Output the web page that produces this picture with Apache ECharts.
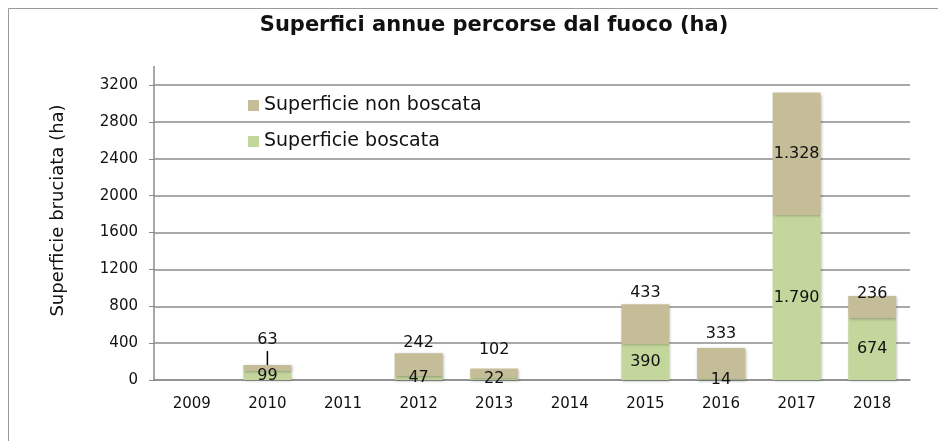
<!DOCTYPE html>
<html lang="it">
<head>
    <meta charset="UTF-8">
    <title>Superfici annue percorse dal fuoco</title>
    <script src="https://cdn.jsdelivr.net/npm/echarts@6/dist/echarts.min.js"></script>
    <style>
        html, body { margin: 0; padding: 0; background: #fff; }
        #chart { width: 938px; height: 441px; }
    </style>
</head>
<body>
<div id="chart"></div>
<script>
    const years = ['2009', '2010', '2011', '2012', '2013', '2014', '2015', '2016', '2017', '2018'];
    const boscata = [0, 99, 0, 47, 22, 0, 390, 14, 1790, 674];
    const nonBoscata = [0, 63, 0, 242, 102, 0, 433, 333, 1328, 236];
    const yTicks = [0, 400, 800, 1200, 1600, 2000, 2400, 2800, 3200];

    const font = 'DejaVu Sans';
    const fmt = v => String(v).replace(/\B(?=(\d{3})+(?!\d))/g, '.');

    // manual label nudges for the "non boscata" values, like in the original
    const topOffsets = {1: [0, 4], 3: [0, 1], 4: [0, -7], 6: [0, 1], 7: [0, -2], 9: [0, 10]};

    const chart = echarts.init(document.getElementById('chart'));
    chart.setOption({
        animation: false,
        textStyle: { fontFamily: font },
        title: {
            text: 'Superfici annue percorse dal fuoco (ha)',
            left: 489, top: 10, textAlign: 'center',
            textStyle: { fontFamily: font, fontSize: 21, fontWeight: 'bold', color: '#111' }
        },
        graphic: [
            { type: 'rect', shape: { x: 8.5, y: 8.5, width: 960, height: 460 }, style: { fill: 'none', stroke: '#9a9a9a', lineWidth: 1 }, silent: true },
            { type: 'line', shape: { x1: 154, y1: 66, x2: 154, y2: 85 }, style: { stroke: '#8c8c8c', lineWidth: 1.5 }, silent: true }
        ],
        legend: {
            orient: 'vertical', left: 243, top: 91, itemGap: 17,
            itemWidth: 11, itemHeight: 11, icon: 'rect',
            data: ['Superficie non boscata', 'Superficie boscata'],
            textStyle: { fontFamily: font, fontSize: 19, color: '#111' }
        },
        grid: { left: 154, right: 28, top: 85, bottom: 61 },
        xAxis: {
            type: 'category', data: years,
            axisLine: { lineStyle: { color: '#8c8c8c', width: 1.5 } },
            axisTick: { length: 5, lineStyle: { color: '#8c8c8c' } },
            axisLabel: { fontFamily: font, fontSize: 15, color: '#111', margin: 17 }
        },
        yAxis: {
            type: 'value', min: yTicks[0], max: yTicks[yTicks.length - 1], interval: yTicks[1] - yTicks[0],
            name: 'Superficie bruciata (ha)', nameLocation: 'middle', nameGap: 87,
            nameTextStyle: { fontFamily: font, fontSize: 18, color: '#111', padding: [0, 0, 0, 44] },
            axisLine: { show: true, lineStyle: { color: '#8c8c8c', width: 1.5 } },
            axisTick: { show: true, length: 5, lineStyle: { color: '#8c8c8c' } },
            axisLabel: { fontFamily: font, fontSize: 15, color: '#111', margin: 16, formatter: v => String(v) },
            splitLine: { lineStyle: { color: '#8c8c8c', width: 1.5 } }
        },
        series: [
            {
                name: 'Superficie boscata', type: 'bar', stack: 'tot', barWidth: 48,
                itemStyle: { color: '#c3d69b', shadowBlur: 3, shadowColor: 'rgba(0,0,0,0.3)', shadowOffsetX: 1, shadowOffsetY: 1 },
                label: {
                    show: true, position: 'inside', fontFamily: font, fontSize: 16, color: '#111',
                    formatter: p => p.value ? fmt(p.value) : ''
                },
                data: boscata
            },
            {
                name: 'Superficie non boscata', type: 'bar', stack: 'tot', barWidth: 48,
                itemStyle: { color: '#c4bd97', shadowBlur: 3, shadowColor: 'rgba(0,0,0,0.3)', shadowOffsetX: 1, shadowOffsetY: 1 },
                label: {
                    show: true, position: 'top', distance: 4, fontFamily: font, fontSize: 16, color: '#111',
                    formatter: p => p.value ? fmt(p.value) : ''
                },
                data: nonBoscata.map((v, i) => {
                    if (i === 8) return { value: v, label: { position: 'inside' } };
                    if (i === 1) return {
                        value: v,
                        label: {
                            offset: topOffsets[i],
                            formatter: '{n|' + fmt(v) + '}\n{l|}',
                            rich: {
                                n: { fontFamily: font, fontSize: 16, color: '#111', lineHeight: 22 },
                                l: { width: 1.5, height: 14, backgroundColor: '#000' }
                            }
                        }
                    };
                    const off = topOffsets[i];
                    return off ? { value: v, label: { offset: off } } : v;
                })
            }
        ]
    });
</script>
</body>
</html>
